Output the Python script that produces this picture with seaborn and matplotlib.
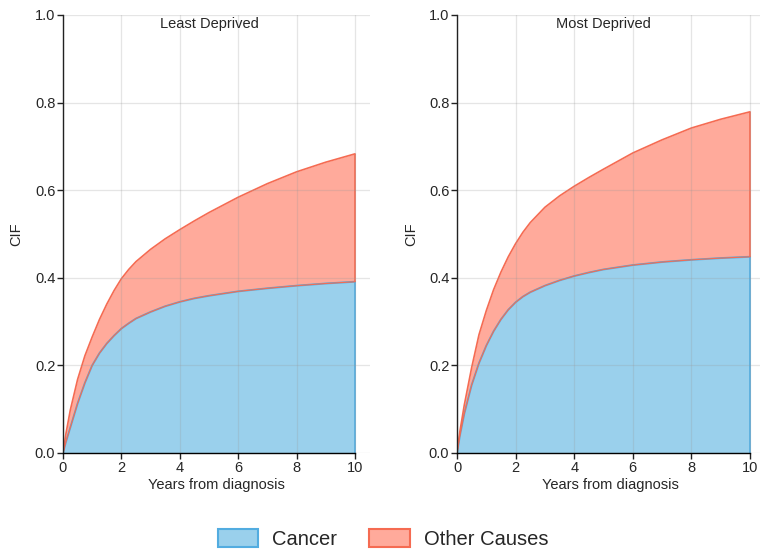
import matplotlib
matplotlib.use('Agg')
import matplotlib.pyplot as plt
import seaborn as sns
import pandas as pd
from matplotlib.patches import Patch

# values (stacked CIF: cancer, then cancer + other causes)
years = [0, 0.1, 0.25, 0.5, 0.75, 1, 1.25, 1.5, 1.75, 2, 2.25, 2.5, 3, 3.5, 4, 4.5,
         5, 6, 7, 8, 9, 10]

least_cancer = [0, 0.025, 0.058, 0.113, 0.160, 0.200, 0.228, 0.250, 0.268, 0.284,
                0.296, 0.307, 0.322, 0.335, 0.345, 0.353, 0.359, 0.369, 0.376,
                0.382, 0.387, 0.391]
least_total = [0, 0.044, 0.098, 0.168, 0.222, 0.265, 0.305, 0.340, 0.371, 0.398,
               0.419, 0.437, 0.465, 0.489, 0.510, 0.530, 0.549, 0.584, 0.615,
               0.642, 0.664, 0.683]

most_cancer = [0, 0.040, 0.090, 0.155, 0.205, 0.245, 0.278, 0.305, 0.327, 0.344,
               0.357, 0.367, 0.382, 0.394, 0.404, 0.412, 0.419, 0.429, 0.436,
               0.441, 0.445, 0.448]
most_total = [0, 0.050, 0.110, 0.195, 0.270, 0.325, 0.373, 0.413, 0.448, 0.478,
              0.504, 0.526, 0.561, 0.587, 0.609, 0.629, 0.648, 0.685, 0.715,
              0.742, 0.762, 0.779]

panels = ['Least Deprived', 'Most Deprived']
causes = ['Cancer', 'Other Causes']

BLUE_FILL, BLUE_EDGE = '#9AD0EC', '#52ACE0'
RED_FILL, RED_EDGE = '#FFAA9B', '#F56B52'

sns.set_theme(style='white')
plt.rcParams['font.family'] = ['Liberation Sans', 'DejaVu Sans']

fig = plt.figure(figsize=(7.6, 5.49), dpi=100)
W, H = 760, 549
# left edge px, px at x=10, bottom px, top px
boxes = [(63, 355, 453, 15), (457, 750, 453, 15)]

data = {
    'Least Deprived': (least_cancer, least_total),
    'Most Deprived': (most_cancer, most_total),
}

for name, (x0, x10, yb, yt) in zip(panels, boxes):
    width = (x10 - x0) * 1.05
    ax = fig.add_axes([x0 / W, (H - yb) / H, width / W, (yb - yt) / H])
    cancer, total = data[name]
    df = pd.DataFrame({'years': years, 'cancer': cancer, 'total': total})

    ax.fill_between(df['years'], 0, df['cancer'], color=BLUE_FILL, lw=0, zorder=1)
    ax.fill_between(df['years'], df['cancer'], df['total'], color=RED_FILL, lw=0, zorder=1)
    sns.lineplot(data=df, x='years', y='cancer', color=BLUE_EDGE, lw=1.4, ax=ax, zorder=2)
    sns.lineplot(data=df, x='years', y='cancer', color=RED_EDGE, lw=0.8, ax=ax, zorder=2.1)
    sns.lineplot(data=df, x='years', y='total', color=RED_EDGE, lw=1.2, ax=ax, zorder=2)
    ax.vlines(10, 0, cancer[-1], color=BLUE_EDGE, lw=1.2, zorder=2)
    ax.vlines(10, cancer[-1], total[-1], color=RED_EDGE, lw=1.2, zorder=2)

    ax.set_xlim(0, 10.5)
    ax.set_ylim(0, 1.0)
    ax.set_xticks([0, 2, 4, 6, 8, 10])
    ax.set_yticks([0, 0.2, 0.4, 0.6, 0.8, 1.0])
    ax.set_yticklabels(['0.0', '0.2', '0.4', '0.6', '0.8', '1.0'])
    ax.grid(True, color='#999999', alpha=0.25, lw=0.9, zorder=3)
    ax.set_axisbelow(False)

    for s in ['top', 'right']:
        ax.spines[s].set_visible(False)
    ax.spines['left'].set_color('#222222')
    ax.spines['bottom'].set_color('black')
    ax.spines['left'].set_linewidth(1.0)
    ax.spines['bottom'].set_linewidth(1.0)
    ax.spines['bottom'].set_bounds(0, 10)
    ax.spines['left'].set_zorder(4)
    ax.spines['bottom'].set_zorder(4)

    ax.tick_params(axis='both', which='major', direction='out', length=4, width=1,
                   color='#222222', labelsize=10.5, pad=1.5, left=True, bottom=True)
    ax.set_xlabel('Years from diagnosis', fontsize=10.5, labelpad=2.5)
    ax.set_ylabel('CIF', fontsize=10.5, labelpad=8)
    ax.text(0.5 * 10 / 10.5, 0.995, name, transform=ax.transAxes, ha='center', va='top',
            fontsize=10.5)

handles = [Patch(facecolor=BLUE_FILL, edgecolor=BLUE_EDGE, lw=1.5, label=causes[0]),
           Patch(facecolor=RED_FILL, edgecolor=RED_EDGE, lw=1.5, label=causes[1])]
fig.legend(handles=handles, loc='center', bbox_to_anchor=(0.504, 1 - 539 / H), ncol=2,
           frameon=False, fontsize=14.5, handlelength=2.0, handleheight=1.0,
           handletextpad=0.7, columnspacing=1.6)

fig.savefig('out.png', dpi=100)
